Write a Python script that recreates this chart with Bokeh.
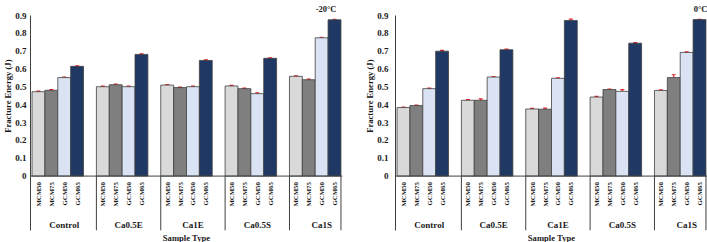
import math
from bokeh.plotting import figure
from bokeh.models import (FactorRange, Range1d, FixedTicker, Span, Whisker, TeeHead,
                          ColumnDataSource, Title)
from bokeh.layouts import row
from bokeh.core.properties import value
from bokeh.embed import file_html
from bokeh.resources import INLINE

# ---------------- data ----------------
groups = ["Control", "Ca0.5E", "Ca1E", "Ca0.5S", "Ca1S"]
mixes = ["MCM50", "MCM75", "GCM50", "GCM65"]
mix_colors = ["#d9d9d9", "#7f7f7f", "#dae3f3", "#1f3864"]

# -20°C fracture energy (J), one list per mix across the groups
m20_MCM50 = [0.473, 0.501, 0.510, 0.505, 0.559]
m20_MCM75 = [0.481, 0.512, 0.496, 0.490, 0.540]
m20_GCM50 = [0.552, 0.501, 0.501, 0.462, 0.775]
m20_GCM65 = [0.615, 0.682, 0.648, 0.660, 0.876]
m20_err_MCM50 = [0.003, 0.003, 0.003, 0.003, 0.003]
m20_err_MCM75 = [0.003, 0.003, 0.003, 0.003, 0.003]
m20_err_GCM50 = [0.003, 0.003, 0.003, 0.004, 0.003]
m20_err_GCM65 = [0.003, 0.003, 0.003, 0.003, 0.003]

# 0°C fracture energy (J)
z_MCM50 = [0.384, 0.425, 0.376, 0.443, 0.480]
z_MCM75 = [0.395, 0.425, 0.375, 0.485, 0.552]
z_GCM50 = [0.490, 0.555, 0.548, 0.475, 0.693]
z_GCM65 = [0.700, 0.708, 0.872, 0.745, 0.877]
z_err_MCM50 = [0.003, 0.003, 0.003, 0.004, 0.003]
z_err_MCM75 = [0.003, 0.008, 0.006, 0.003, 0.016]
z_err_GCM50 = [0.003, 0.003, 0.003, 0.009, 0.003]
z_err_GCM65 = [0.005, 0.003, 0.008, 0.003, 0.002]

y_ticks = [0, 0.1, 0.2, 0.3, 0.4, 0.5, 0.6, 0.7, 0.8, 0.9]
y_tick_labels = ["0", "0.1", "0.2", "0.3", "0.4", "0.5", "0.6", "0.7", "0.8", "0.9"]

titles = ["-20°C", "0°C"]
y_label = "Fracture Energy (J)"
x_label = "Sample Type"

FONT = "Liberation Serif"
TXT = "#1a1a1a"
LINE = "#404040"


def make_panel(title, series, errors, width, b_left, b_right, title_offset, lab_standoff):
    factors = [(g, m) for g in groups for m in mixes]
    x_range = FactorRange(factors=factors, group_padding=1.0, factor_padding=0.0,
                          range_padding=0.12, range_padding_units="absolute")
    p = figure(x_range=x_range, y_range=Range1d(-0.305, 0.9), width=width, height=242,
               output_backend="svg", toolbar_location=None, x_axis_location=None,
               min_border_left=b_left, min_border_right=b_right,
               min_border_top=15, min_border_bottom=11)
    p.outline_line_color = None
    p.xgrid.visible = False
    p.ygrid.visible = False
    p.background_fill_color = "white"

    xs, tops, ups, los, cols = [], [], [], [], []
    for gi, g in enumerate(groups):
        for mi, m in enumerate(mixes):
            v = series[mi][gi]
            e = errors[mi][gi]
            xs.append((g, m))
            tops.append(v)
            ups.append(v + e)
            los.append(v - e)
            cols.append(mix_colors[mi])
    src = ColumnDataSource(dict(x=xs, top=tops, upper=ups, lower=los, color=cols,
                                label=[m for (_, m) in xs], y0=[0] * len(xs)))
    p.vbar(x="x", top="top", width=1.0, source=src, fill_color="color",
           line_color=LINE, line_width=0.8)

    wh = Whisker(source=src, base="x", upper="upper", lower="lower",
                 line_color="#e8262b", line_width=1.2,
                 upper_head=TeeHead(size=4, line_color="#e8262b", line_width=1.2),
                 lower_head=TeeHead(size=4, line_color="#e8262b", line_width=1.2))
    p.add_layout(wh)

    # baseline
    p.add_layout(Span(location=0, dimension="width", line_color=LINE, line_width=1))

    # group separators (left edge of every group after the first, and right end)
    sep_x = [(g, mixes[0], -0.5) for g in groups[1:]] + [(groups[-1], mixes[-1], 0.5)]
    sep_src = ColumnDataSource(dict(x=sep_x, y0=[0] * len(sep_x),
                                    y1=[p.y_range.start] * len(sep_x)))
    p.segment(x0="x", y0="y0", x1="x", y1="y1", source=sep_src,
              line_color=LINE, line_width=1)

    # category labels (vertical)
    p.text(x="x", y="y0", text="label", source=src, angle=math.pi / 2,
           text_align="right", text_baseline="middle", y_offset=6,
           text_font=value(FONT), text_font_style="bold",
           text_font_size=value("6.8px"), text_color=TXT)

    # group labels
    gsrc = ColumnDataSource(dict(x=[(g, 0.5) for g in groups], y0=[0] * len(groups),
                                 label=groups))
    p.text(x="x", y="y0", text="label", source=gsrc, text_align="center",
           text_baseline="middle", y_offset=49, text_font=value(FONT),
           text_font_style="bold", text_font_size=value("9px"), text_color=TXT)

    # y axis
    ax = p.yaxis[0]
    ax.ticker = FixedTicker(ticks=y_ticks)
    ax.major_label_overrides = dict(zip(y_ticks, y_tick_labels))
    ax.major_tick_line_color = None
    ax.minor_tick_line_color = None
    ax.major_tick_out = 0
    ax.major_tick_in = 0
    ax.minor_tick_out = 0
    ax.minor_tick_in = 0
    ax.axis_line_color = LINE
    ax.axis_line_width = 1
    ax.major_label_standoff = lab_standoff
    ax.major_label_text_font = FONT
    ax.major_label_text_font_style = "bold"
    ax.major_label_text_font_size = "9px"
    ax.major_label_text_color = TXT

    ytitle = Title(text=y_label, align="right", offset=44, standoff=0,
                   text_font=FONT, text_font_style="bold", text_font_size="8.6px",
                   text_color=TXT)
    p.add_layout(ytitle, "left")

    xtitle = Title(text=x_label, align="center", standoff=0,
                   text_font=FONT, text_font_style="bold", text_font_size="8.6px",
                   text_color=TXT)
    p.add_layout(xtitle, "below")

    p.title.text = title
    p.title.align = "right"
    p.title.offset = title_offset
    p.title.standoff = 3
    p.title.text_font = FONT
    p.title.text_font_style = "bold"
    p.title.text_font_size = "8.5px"
    p.title.text_color = TXT
    return p


p1 = make_panel(titles[0], [m20_MCM50, m20_MCM75, m20_GCM50, m20_GCM65],
                [m20_err_MCM50, m20_err_MCM75, m20_err_GCM50, m20_err_GCM65],
                width=352, b_left=29, b_right=10, title_offset=6, lab_standoff=4)
p2 = make_panel(titles[1], [z_MCM50, z_MCM75, z_GCM50, z_GCM65],
                [z_err_MCM50, z_err_MCM75, z_err_GCM50, z_err_GCM65],
                width=355, b_left=43, b_right=0, title_offset=0, lab_standoff=7)

layout = row(p1, p2)
open("out.html", "w").write(file_html(layout, INLINE))
